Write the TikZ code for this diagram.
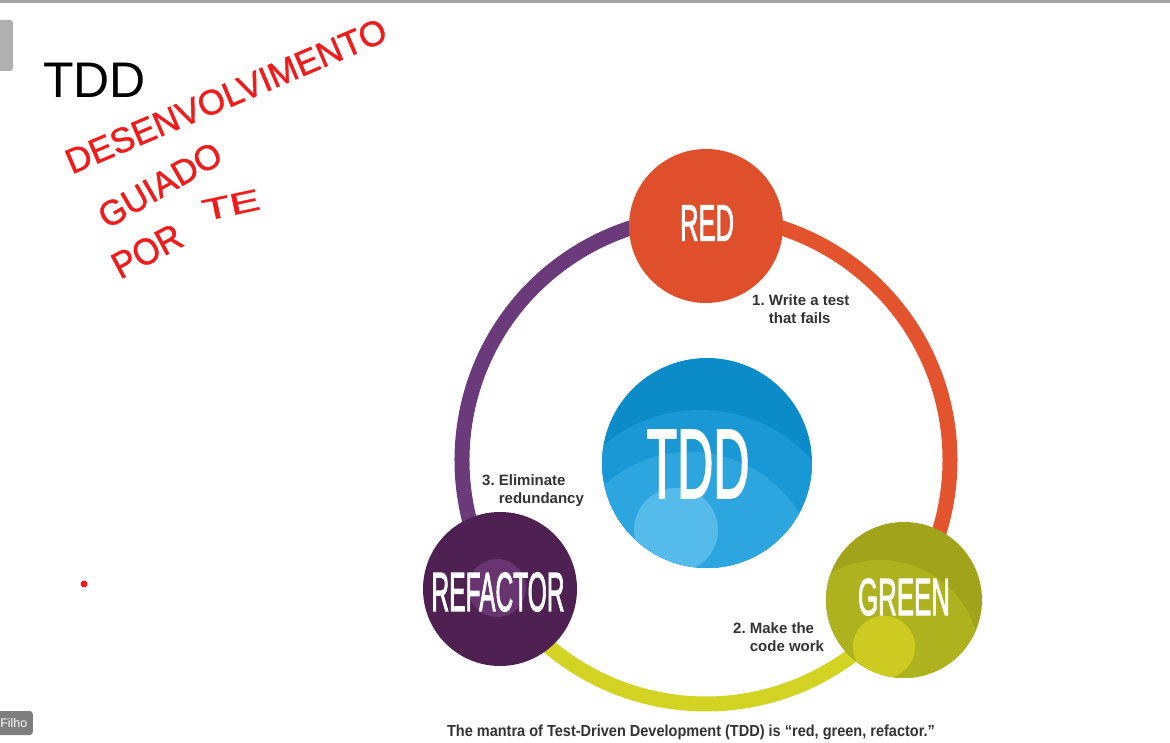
\documentclass[tikz,border=0pt]{standalone}
\usepackage{fontspec}
\setmainfont{Liberation Sans}
\newfontfamily\stagefam{Liberation Sans}[FakeBold=2.5]
\newfontfamily\inkfam{Liberation Sans}[FakeBold=1.2]
\usepackage{graphicx}

\definecolor{topgray}{HTML}{A3A3A3}
\definecolor{tabgray}{HTML}{B0B0B0}
\definecolor{badgegray}{HTML}{7E7E7E}
\definecolor{inkred}{HTML}{F21A1A}
\definecolor{labelgray}{HTML}{333333}
\definecolor{redstage}{HTML}{E04F2C}
\definecolor{arcorange}{HTML}{E3532E}
\definecolor{arcyellow}{HTML}{D3D323}
\definecolor{arcpurple}{HTML}{6A3A7B}
\definecolor{greenstage}{HTML}{A1A41B}
\definecolor{greenmid}{HTML}{AFB21F}
\definecolor{greenlight}{HTML}{CDCB22}
\definecolor{refstage}{HTML}{4E2152}
\definecolor{reflight}{HTML}{693571}
\definecolor{tddbase}{HTML}{0C8BC9}
\definecolor{tddA}{HTML}{1A98D5}
\definecolor{tddB}{HTML}{2DA6DF}
\definecolor{tddC}{HTML}{55BBEB}

% squeeze text horizontally to a given width, keeping its height
\newcommand{\squeezeto}[2]{\resizebox{#1}{\height}{#2}}

\begin{document}
\begin{tikzpicture}[x=1pt,y=1pt,
  stage/.style={circle, inner sep=0pt, text=white},
  ringarc/.style={line width=15pt},
  steplabel/.style={anchor=base west, inner sep=0pt, text=labelgray,
    font=\fontsize{15}{18}\selectfont\bfseries},
  scribble/.style={text=inkred, inner sep=0pt},
  stagefont/.style={font=\fontsize{#1}{#1}\stagefam\selectfont}]

\useasboundingbox (0,0) rectangle (1170,742);
\fill[white] (0,0) rectangle (1170,742);

% window chrome
\fill[topgray] (0,739) rectangle (1170,742);
\fill[tabgray, rounded corners=3pt] (-6,671) rectangle (13,722);
\node[fill=badgegray, rounded corners=3pt, text=white, inner sep=0pt,
  minimum height=24pt, minimum width=38pt, anchor=east,
  font=\fontsize{12.5}{12.5}\selectfont]
  (badge) at (33,19) {Filho};

% slide title
\node[anchor=base west, inner sep=0pt, font=\fontsize{50}{50}\selectfont]
  (title) at (43,644) {TDD};

% handwritten notes
\node[scribble, rotate=23] (hw1) at (226,646)
  {\fontsize{35}{35}\inkfam\selectfont\squeezeto{345pt}{DESENVOLVIMENTO}};
\node[scribble, rotate=30] (hw2) at (160,557)
  {\fontsize{35}{35}\inkfam\selectfont\squeezeto{136pt}{GUIADO}};
\node[scribble, rotate=28] (hw3) at (147,491)
  {\fontsize{37}{37}\inkfam\selectfont\squeezeto{74pt}{POR}};
\node[scribble, rotate=12] (hw4) at (231,537)
  {\fontsize{30}{30}\inkfam\selectfont\squeezeto{58pt}{TE}};
\fill[inkred] (84,158) circle (3.5pt);

% the cycle ring
\coordinate (ring) at (706,282);
\coordinate (pRed) at ([shift={(90:244)}]ring);
\coordinate (pGreen) at ([shift={(-35.3:244)}]ring);
\coordinate (pRefactor) at ([shift={(212.3:244)}]ring);
\draw[ringarc, arcorange] (pRed) arc[start angle=90, end angle=-35.3, radius=244];
\draw[ringarc, arcyellow] (pGreen) arc[start angle=-35.3, end angle=-147.7, radius=244];
\draw[ringarc, arcpurple] (pRefactor) arc[start angle=212.3, end angle=90, radius=244];

% stages
\node[stage, fill=redstage, minimum size=154pt] (red) at (706,516) {};
\node[stage, stagefont=51] at (707,519) {\squeezeto{54pt}{RED}};

\node[stage, fill=greenstage, minimum size=156pt,
  path picture={
    \fill[greenmid] ([shift={(-24,-60)}]path picture bounding box.center) circle (100pt);
    \fill[greenlight] ([shift={(-20,-47)}]path picture bounding box.center) circle (31pt);
  }] (green) at (904,142) {};
\node[stage, stagefont=52] at (904,145) {\squeezeto{92pt}{GREEN}};

\node[stage, fill=refstage, minimum size=154pt,
  path picture={
    \fill[reflight] ([shift={(-3,1)}]path picture bounding box.center) circle (29pt);
  }] (refactor) at (500,153) {};
\node[stage, stagefont=55] at (498,150) {\squeezeto{133pt}{REFACTOR}};

\node[stage, fill=tddbase, minimum size=210pt,
  path picture={
    \fill[tddA] ([shift={(-7,-97)}]path picture bounding box.center) circle (150pt);
    \fill[tddB] ([shift={(-17,-117)}]path picture bounding box.center) circle (128pt);
    \fill[tddC] ([shift={(-31,-67)}]path picture bounding box.center) circle (42pt);
  }] (tdd) at (707,279) {};
\node[stage, stagefont=98] at (698,278) {\squeezeto{103pt}{TDD}};

% step labels
\node[steplabel] (s1) at (752,436)
  {\begin{tabular}[t]{@{}l@{\ }l@{}}1.&Write a test\\&that fails\end{tabular}};
\node[steplabel] (s2) at (733,109)
  {\begin{tabular}[t]{@{}l@{\ }l@{}}2.&Make the\\&code work\end{tabular}};
\node[steplabel] (s3) at (482,256)
  {\begin{tabular}[t]{@{}l@{\ }l@{}}3.&Eliminate\\&redundancy\end{tabular}};

% caption
\node[anchor=base, inner sep=0pt, text=labelgray,
  font=\fontsize{16}{16}\selectfont\bfseries] (caption) at (691,6)
  {\squeezeto{488pt}{The mantra of Test-Driven Development (TDD) is “red, green, refactor.”}};
\end{tikzpicture}
\end{document}
